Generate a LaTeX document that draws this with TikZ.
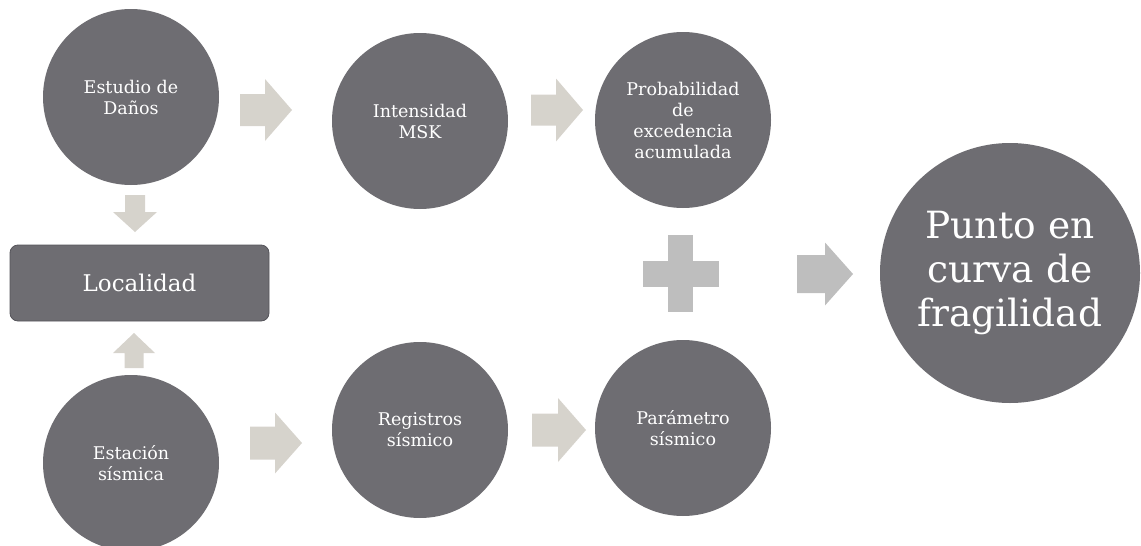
\documentclass[tikz,border=0pt]{standalone}
\usepackage{fontspec}
\setmainfont{DejaVu Serif}
\definecolor{circfill}{HTML}{6E6D72}
\definecolor{rectline}{HTML}{55545A}
\definecolor{arrc}{HTML}{D6D3CC}
\definecolor{plusc}{HTML}{BEBEBE}
\begin{document}
\begin{tikzpicture}[x=1pt,y=-1pt,
  bubble/.style={circle, fill=circfill, inner sep=0pt, minimum size=176pt, text=white, align=center, font=\fontsize{17.5}{21}\selectfont},
  pics/barrow/.style args={#1/#2/#3/#4}{code={
    \fill ({-#1/2},{-#3/2}) -- ({#1/2-#4},{-#3/2}) -- ({#1/2-#4},{-#2/2}) -- ({#1/2},0)
      -- ({#1/2-#4},{#2/2}) -- ({#1/2-#4},{#3/2}) -- ({-#1/2},{#3/2}) -- cycle;}}]
\useasboundingbox (0,0) rectangle (1141,546);
% nodes
\node[bubble] (dan) at (131,97) {Estudio de\\Daños};
\node[bubble] (int) at (420,121) {Intensidad\\MSK};
\node[bubble] (prob) at (683,120) {Probabilidad\\de\\excedencia\\acumulada};
\node[bubble] (est) at (131,463) {Estación\\sísmica};
\node[bubble] (reg) at (420,430) {Registros\\sísmico};
\node[bubble] (par) at (683,428) {Parámetro\\sísmico};
\node[bubble, minimum size=260pt, font=\fontsize{37.5}{44}\selectfont] (pun) at (1010,273) {Punto en\\curva de\\fragilidad};
\node[draw=rectline, line width=0.8pt, fill=circfill, rounded corners=8pt, minimum width=259pt, minimum height=76pt, inner sep=0pt, text=white, font=\fontsize{23}{27}\selectfont] (loc) at (139.5,283) {Localidad};
% block arrows
\pic[fill=arrc] at (266,110) {barrow=52/62/32/27};
\pic[fill=arrc] at (557,110) {barrow=52/63/31/27};
\pic[fill=arrc] at (276,443) {barrow=52/61/33/27};
\pic[fill=arrc] at (559,430) {barrow=54/64/33/28};
\pic[fill=arrc, rotate=-90] at (135,213.5) {barrow=37/44/20/20};
\pic[fill=arrc, rotate=90] at (134,350.5) {barrow=35/42/19/20};
\pic[fill=plusc] at (825,274) {barrow=56/63/38/28};
% plus sign
\fill[plusc] (668,235) rectangle (693,312);
\fill[plusc] (643,261) rectangle (719,287);
\end{tikzpicture}
\end{document}
